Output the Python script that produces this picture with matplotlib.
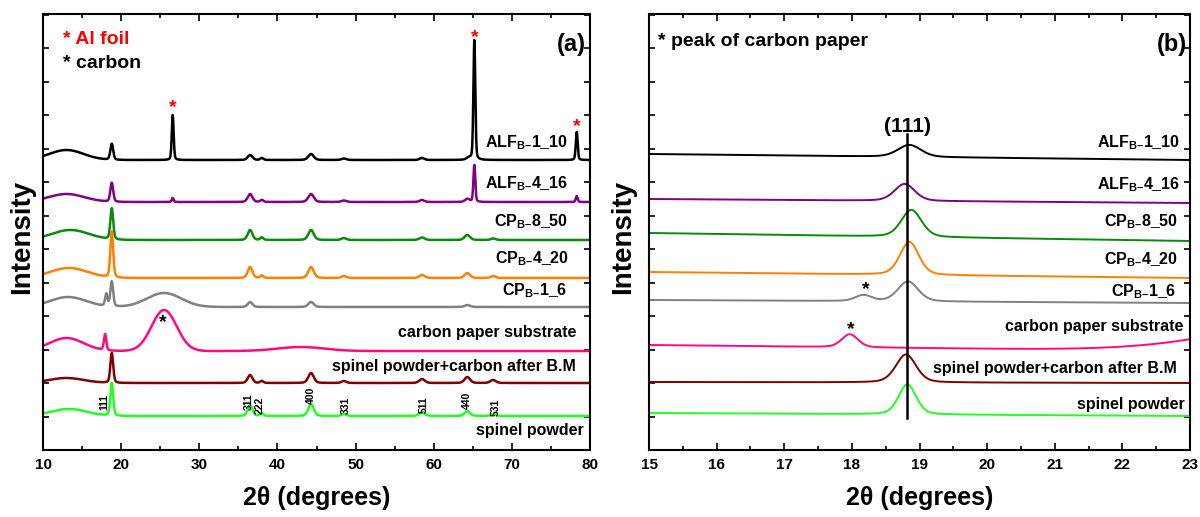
import numpy as np
import matplotlib
matplotlib.use("Agg")
import matplotlib.pyplot as plt
from matplotlib.ticker import MultipleLocator, NullFormatter

plt.rcParams['font.family'] = ['Liberation Sans', 'DejaVu Sans']
plt.rcParams['font.weight'] = 'bold'
plt.rcParams['mathtext.fontset'] = 'custom'
plt.rcParams['mathtext.rm'] = 'Liberation Sans:bold'
plt.rcParams['mathtext.it'] = 'Liberation Sans:bold'
plt.rcParams['mathtext.bf'] = 'Liberation Sans:bold'
plt.rcParams['mathtext.default'] = 'rm'

# ---------------- data: panel (a) ----------------
names = [r'ALF$_{B–}$1_10', r'ALF$_{B–}$4_16', r'CP$_{B–}$8_50', r'CP$_{B–}$4_20',
         r'CP$_{B–}$1_6', 'carbon paper substrate', 'spinel powder+carbon after B.M',
         'spinel powder']
colors = ['#000000', '#800080', '#0a8a0a', '#ff8000', '#808080', '#ff0a80', '#800000', '#22ff22']

a_offsets = [290, 248, 210, 172, 143, 99, 67, 34]
# peaks: (position 2θ, height, sigma)
a_peaks = [
    [(13.0, 10, 2.2), (18.8, 16, 0.18), (26.6, 45, 0.12), (36.5, 5, 0.3), (38.0, 2, 0.2),
     (44.3, 6, 0.35), (48.5, 1.5, 0.3), (58.5, 2, 0.3), (64.5, 2, 0.3), (65.2, 120, 0.12),
     (78.3, 28, 0.12)],
    [(13.0, 8, 2.3), (18.8, 19, 0.18), (26.6, 4, 0.12), (36.5, 8, 0.3), (38.0, 2, 0.2),
     (44.3, 8, 0.35), (48.5, 1.5, 0.3), (58.5, 2, 0.3), (64.3, 3, 0.3), (65.2, 37, 0.12),
     (78.3, 6, 0.12)],
    [(13.5, 10, 2.4), (18.8, 31, 0.18), (36.5, 10, 0.3), (38.0, 2.5, 0.2), (44.3, 10, 0.35),
     (48.5, 2, 0.3), (58.5, 2.5, 0.35), (64.3, 5, 0.35), (67.6, 1.5, 0.3)],
    [(13.3, 10, 2.4), (18.8, 46, 0.18), (36.5, 11, 0.3), (38.0, 2.5, 0.2), (44.3, 11, 0.35),
     (48.5, 2, 0.3), (58.5, 3, 0.35), (64.3, 5, 0.35), (67.6, 2, 0.3)],
    [(13.2, 10, 2.3), (18.1, 12, 0.15), (18.8, 25, 0.18), (25.5, 14, 2.2), (36.5, 5, 0.3),
     (44.3, 5, 0.35), (64.3, 2, 0.35)],
    [(13.0, 13, 2.2), (17.95, 16, 0.15), (25.5, 41, 1.6), (43.0, 4, 3.0)],
    [(13.0, 5, 2.2), (18.8, 30, 0.18), (36.5, 8, 0.3), (38.0, 2, 0.2), (44.3, 10, 0.35),
     (48.5, 2, 0.3), (58.5, 4, 0.35), (64.3, 6, 0.35), (67.6, 3, 0.35)],
    [(13.3, 7, 2.3), (18.8, 33, 0.18), (36.5, 11, 0.3), (38.0, 3, 0.2), (44.3, 12, 0.35),
     (48.5, 2, 0.3), (58.5, 4, 0.35), (64.3, 5, 0.35), (67.6, 2, 0.35)],
]
a_label_y = [143, 184, 222, 259, 291, 333, 367, 430]  # pixel rows (from top)
a_label_x = [77.2, 77.2, 77.2, 77.3, 77.1, 78.2, 78.2, 79.2]

hkl_labels = ['111', '311', '222', '400', '331', '511', '440', '531']
hkl_x = [17.8, 36.3, 37.7, 44.3, 48.7, 58.7, 64.3, 67.9]
hkl_y = [402, 402, 405, 395, 405, 405, 400, 407]

# ---------------- data: panel (b) ----------------
b_offsets = [296, 251, 217, 178, 150, 105, 68, 37]
b_drift = [-6, -4, -8, -6, -3, -6, -1, -3]
b_peaks = [
    [(18.85, 12, 0.17)],
    [(18.78, 17, 0.15)],
    [(18.88, 27, 0.15)],
    [(18.85, 33, 0.14)],
    [(18.17, 6, 0.12), (18.83, 20, 0.15)],
    [(17.97, 13, 0.12), (25.5, 40, 1.6)],
    [(18.8, 28, 0.15)],
    [(18.82, 30, 0.13)],
]
b_label_y = [143, 185, 222, 260, 292, 327, 368, 404]
b_label_x = [22.85, 22.85, 22.82, 22.82, 22.8, 22.9, 22.8, 22.92]
line_111 = 18.82


def profile(x, peaks):
    y = np.zeros_like(x)
    for p, h, s in peaks:
        g = np.exp(-0.5 * ((x - p) / s) ** 2)
        if s < 1:
            hw = 1.1774 * s
            l = 1.0 / (1.0 + ((x - p) / hw) ** 2)
            y += h * (0.7 * g + 0.3 * l)
        else:
            y += h * g
    return y


H = 450.0  # axis bottom pixel row
def py(row):
    return H - row

LBL = 11.5

fig = plt.figure(figsize=(12, 5.17), dpi=100)
axa = fig.add_axes([43 / 1200, 1 - 450 / 517, (590 - 43) / 1200, 436 / 517])
axb = fig.add_axes([649 / 1200, 1 - 450 / 517, (1190 - 649) / 1200, 436 / 517])

xa = np.linspace(10, 80, 4000)
for off, pk, c in zip(a_offsets, a_peaks, colors):
    axa.plot(xa, off + profile(xa, pk), color=c, lw=1.8)

xb = np.linspace(15, 23, 2000)
for off, dr, pk, c in zip(b_offsets, b_drift, b_peaks, colors):
    axb.plot(xb, off + dr * (xb - 15) / 8 + profile(xb, pk), color=c, lw=1.4)

for ax, (x0, x1), ylx in ((axa, (10, 80), (22 - 43) / 547), (axb, (15, 23), (623 - 649) / 541)):
    ax.set_xlim(x0, x1)
    ax.set_ylim(0, 436)
    ax.yaxis.set_major_locator(MultipleLocator(33.5))
    ax.yaxis.set_major_formatter(NullFormatter())
    ax.tick_params(which='both', direction='in', top=True, right=True, width=1.2)
    ax.tick_params(which='major', length=5, labelsize=11, pad=6)
    ax.tick_params(which='minor', length=3)
    ax.tick_params(axis='y', which='major', length=4)
    for sp in ax.spines.values():
        sp.set_linewidth(1.5)
    for lab in ax.get_xticklabels():
        lab.set_fontweight('bold')
    ax.set_ylabel('Intensity', fontsize=20, fontweight='bold')
    ax.yaxis.set_label_coords(ylx, (450 - 237) / 436)
    ax.yaxis.label.set_va('center')
    ax.set_xlabel('2θ (degrees)', fontsize=18, fontweight='bold', labelpad=10)

axa.xaxis.set_major_locator(MultipleLocator(10))
axa.xaxis.set_minor_locator(MultipleLocator(5))
axb.xaxis.set_major_locator(MultipleLocator(1))
axb.xaxis.set_minor_locator(MultipleLocator(0.5))

# panel (a) texts
for nm, xx, yy in zip(names, a_label_x, a_label_y):
    axa.text(xx, py(yy), nm, ha='right', va='center', fontsize=LBL, fontweight='bold')
for lab, xx, yy in zip(hkl_labels, hkl_x, hkl_y):
    axa.text(xx, py(yy), lab, rotation=90, ha='center', va='center', fontsize=7.5,
             fontweight='bold')
axa.text(12.5, py(40), '* Al foil', color='red', fontsize=14, fontweight='bold', va='center')
axa.text(12.5, py(63), '* carbon', color='black', fontsize=14, fontweight='bold', va='center')
axa.text(79.5, py(45), '(a)', fontsize=17, fontweight='bold', ha='right', va='center')
for xx, yy in ((26.6, 108), (65.2, 38), (78.3, 127)):
    axa.text(xx, py(yy), '*', color='red', fontsize=14, fontweight='bold', ha='center', va='center')
axa.text(25.3, py(323), '*', color='black', fontsize=14, fontweight='bold', ha='center', va='center')

# panel (b) texts
for nm, xx, yy in zip(names, b_label_x, b_label_y):
    axb.text(xx, py(yy), nm, ha='right', va='center', fontsize=LBL, fontweight='bold')
axb.text(15.13, py(42), '* peak of carbon paper', fontsize=14, fontweight='bold', va='center')
axb.text(22.96, py(45), '(b)', fontsize=17, fontweight='bold', ha='right', va='center')
axb.text(line_111, py(126), '(111)', fontsize=15, fontweight='bold', ha='center', va='center')
axb.plot([line_111, line_111], [py(418), py(134)], color='black', lw=1.8)
axb.text(18.2, py(290), '*', fontsize=14, fontweight='bold', ha='center', va='center')
axb.text(17.98, py(330), '*', fontsize=14, fontweight='bold', ha='center', va='center')

fig.savefig('out.png', dpi=100)
